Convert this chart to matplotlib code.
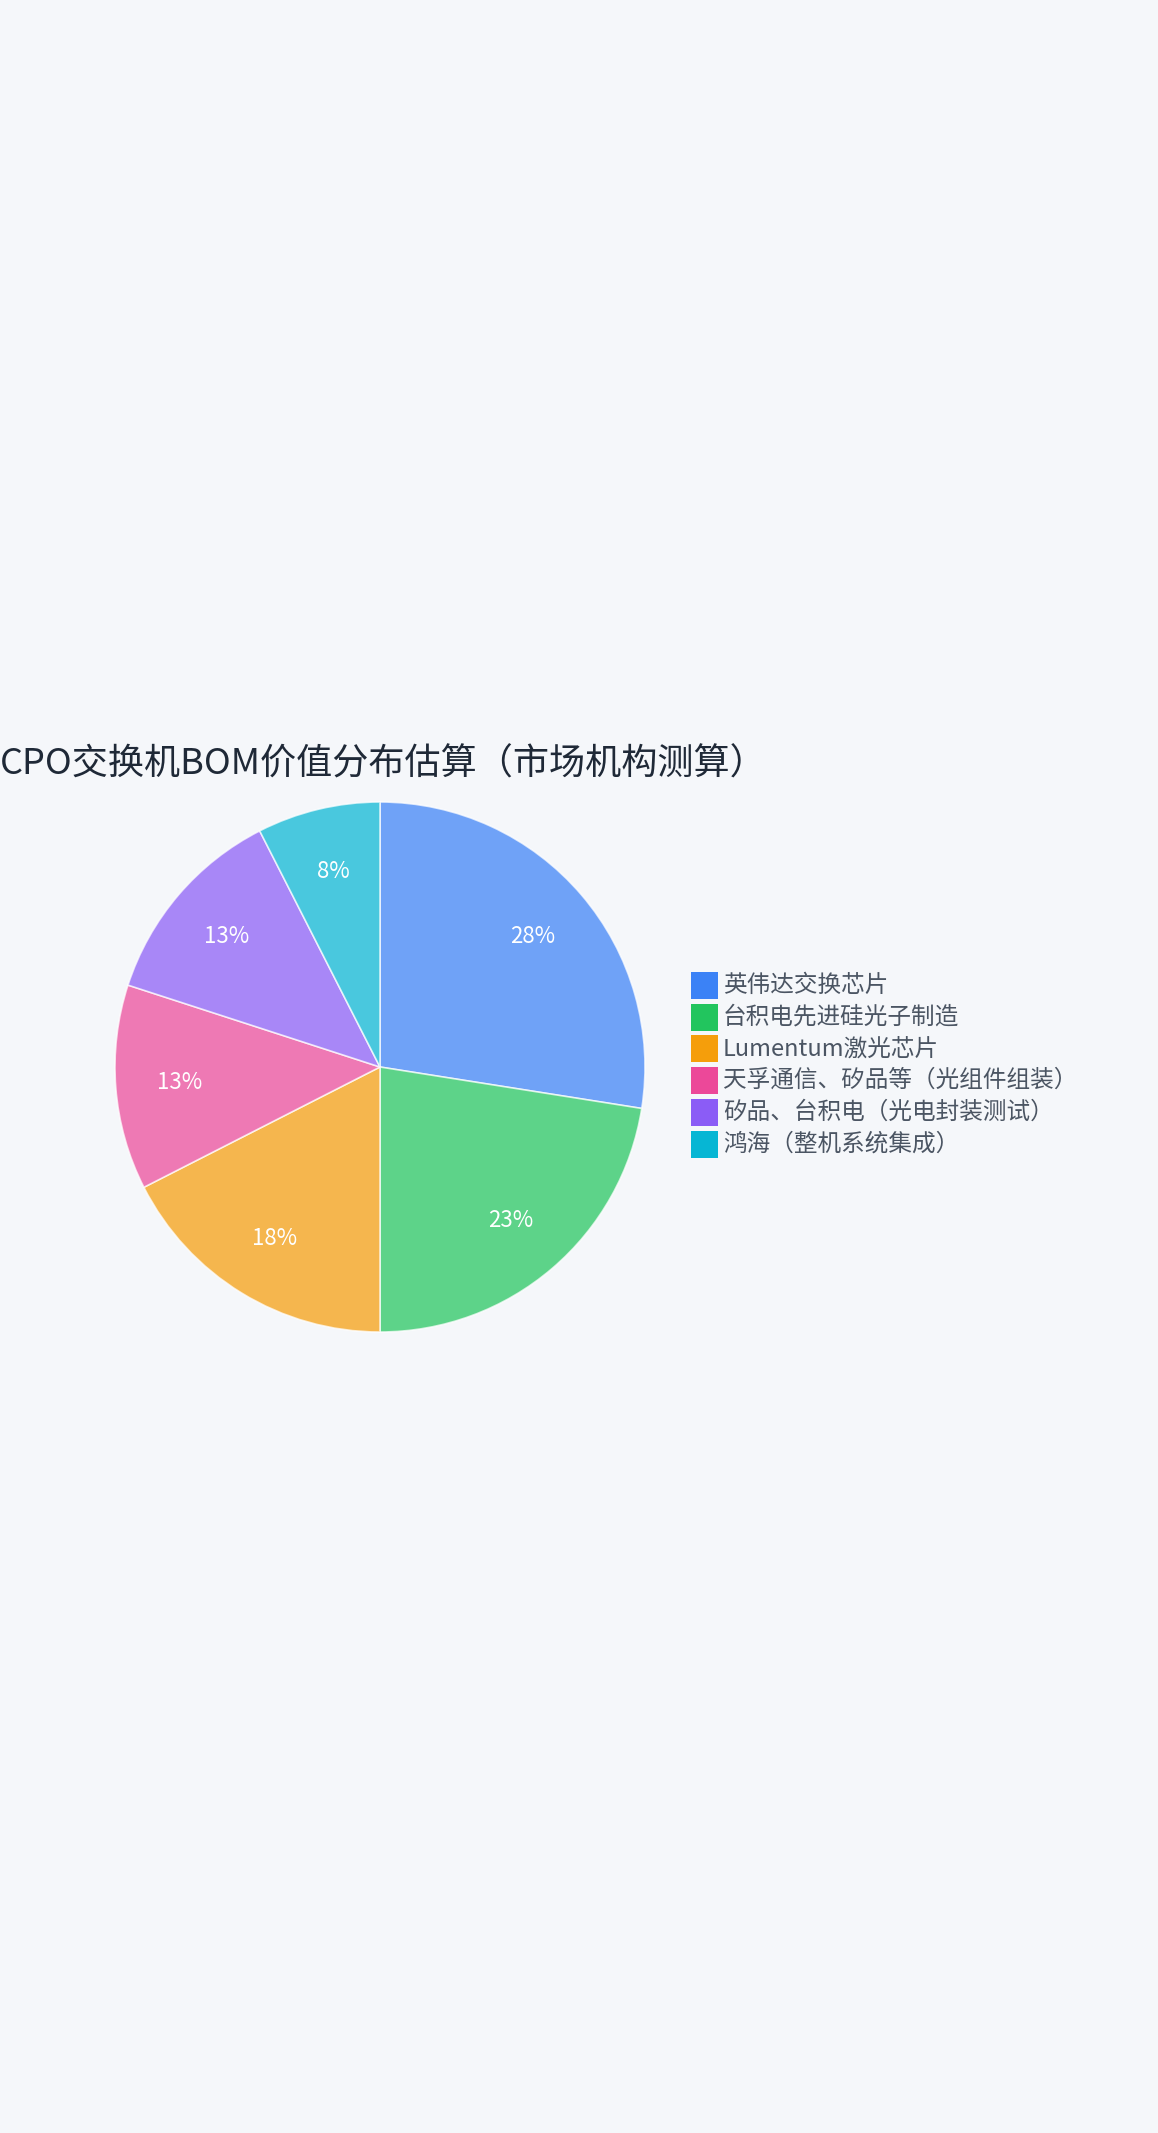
import math
import matplotlib
matplotlib.use("Agg")
import matplotlib.pyplot as plt
from matplotlib.patches import Rectangle

plt.rcParams["font.family"] = ["Noto Sans CJK SC", "DejaVu Sans"]

# ---------------------------------------------------------------------
# Data
# ---------------------------------------------------------------------
TITLE = "CPO交换机BOM价值分布估算（市场机构测算）"
categories = [
    "英伟达交换芯片",
    "台积电先进硅光子制造",
    "Lumentum激光芯片",
    "天孚通信、矽品等（光组件组装）",
    "矽品、台积电（光电封装测试）",
    "鸿海（整机系统集成）",
]
values = [27.5, 22.5, 17.5, 12.5, 12.5, 7.5]
colors = ["#3b82f6", "#22c55e", "#f59e0b", "#ec4899", "#8b5cf6", "#06b6d4"]

BG = "#f5f7fa"
W, H = 1158, 2133


def pct_label(p):
    # round half up like the original chart
    return f"{math.floor(p + 0.5 + 1e-9):d}%"


fig = plt.figure(figsize=(W / 100, H / 100), dpi=100)
fig.patch.set_facecolor(BG)

# pie centre (380, 1067) px, radius 265 px
cx, cy, r = 380, 1067, 265
ax = fig.add_axes([(cx - r) / W, 1 - (cy + r) / H, 2 * r / W, 2 * r / H])
ax.set_facecolor(BG)

wedges, texts, autotexts = ax.pie(
    values,
    colors=colors,
    startangle=90,
    counterclock=False,
    autopct=pct_label,
    pctdistance=0.76,
    radius=1.0,
    wedgeprops=dict(edgecolor="white", linewidth=1.2, alpha=0.72),
    textprops=dict(color="white", fontsize=16),
)
ax.set_xlim(-1, 1)
ax.set_ylim(-1, 1)
ax.set_aspect("equal")
ax.axis("off")

# title, left aligned at the figure edge
fig.text(0.0, 1 - 765 / H, TITLE, ha="left", va="center",
         fontsize=26, color="#1f2937")

# legend: colour squares + labels
leg_x, leg_y0, row_h, sq = 691, 972, 31.7, 27
for i, (lab, col) in enumerate(zip(categories, colors)):
    top = leg_y0 + i * row_h
    fig.add_artist(Rectangle((leg_x / W, 1 - (top + sq) / H), sq / W, sq / H,
                             transform=fig.transFigure, facecolor=col,
                             edgecolor="none"))
    fig.text(723 / W, 1 - (top + sq / 2) / H, lab, ha="left", va="center",
             fontsize=17, color="#4b5563")

fig.savefig("out.png", dpi=100, facecolor=BG)
